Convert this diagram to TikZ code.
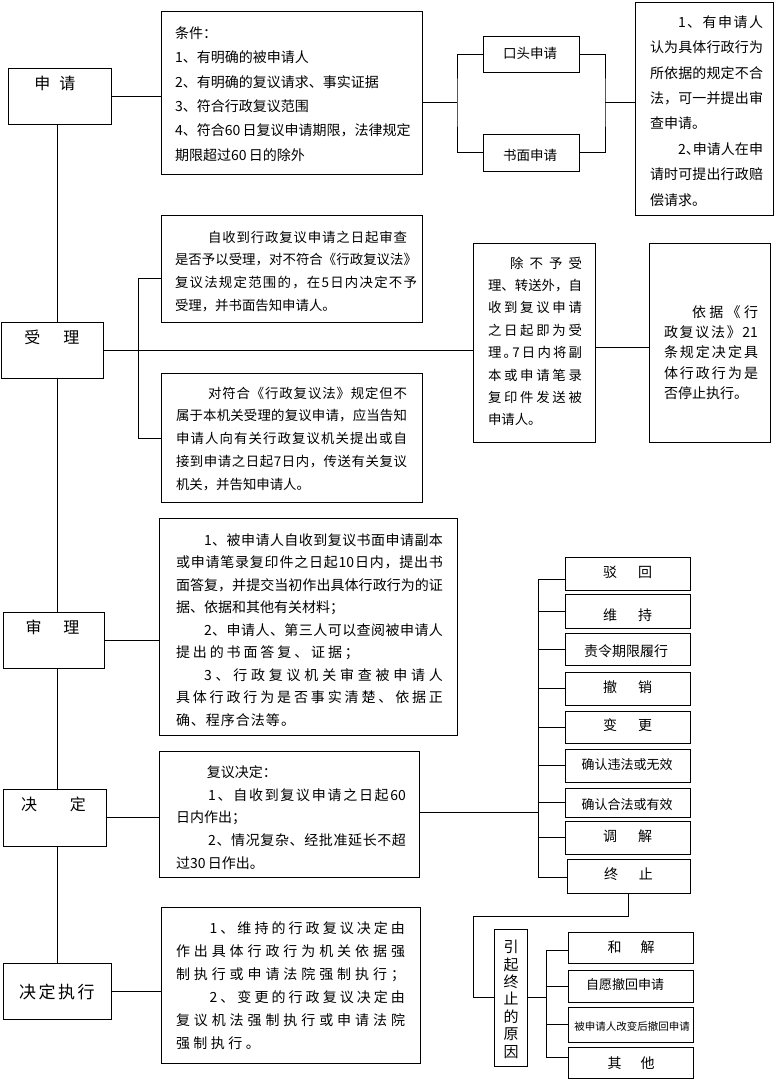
\documentclass[tikz,border=0pt]{standalone}
\usepackage{fontspec}
\newfontfamily\cjk{Noto Sans CJK SC}
\makeatletter
\newcommand\spreadit[1]{\@tfor\sp@x:=#1\do{\sp@x\hskip0pt plus1fil\relax}\unskip}
\makeatother
% #1 box width, #2 box height, #3 left pad, #4 text width, #5 first baseline, #6 line skip, #7 lines
\newcommand\tbox[7]{\vbox to #2{\def\tbW{#1}\def\tbL{#3}\def\tbT{#4}%
  \baselineskip=#6\lineskiplimit=-1000pt\lineskip=0pt
  \kern\dimexpr#5-#6\relax
  \hbox to #1{}%
  #7%
  \vss}}
\newcommand\NL[1]{\hbox{\kern\tbL\relax #1}}
\newcommand\JL[2][0pt]{\hbox to \dimexpr\tbL+\tbT\relax{\kern\tbL\relax\kern#1\relax\spreadit{#2}}}
\newcommand\SL[3][0pt]{\hbox to \dimexpr\tbL+#2\relax{\kern\tbL\relax\kern#1\relax\spreadit{#3}}}
\newcommand\CL[2]{\hbox to \tbW{\hskip\dimexpr\tbW/2+#1\relax\hbox to 0pt{\hss#2\hss}\hss}}
\newcommand\onebox[5]{\tbox{#1}{#2}{0pt}{0pt}{#3}{20pt}{\CL{#4}{#5}}}
\tikzset{
  bx/.style={draw, line width=1pt, inner sep=0pt, outer sep=0pt, anchor=north west},
  fs/.style={font=\cjk\fontsize{#1}{#1}\selectfont},
  ln/.style={line width=1pt}
}
\begin{document}
\begin{tikzpicture}[x=1pt,y=-1pt]
\useasboundingbox (0,0) rectangle (776,1079);
% left column
\node[bx,fs=16] (shenqing) at (8,68) {\onebox{103pt}{56pt}{21.9pt}{-4.5pt}{申\kern9pt 请}};
\node[bx,fs=16] (shouli) at (1,322) {\onebox{102pt}{56pt}{21.9pt}{0pt}{受\kern23pt 理}};
\node[bx,fs=16] (shenli) at (3,612) {\onebox{101pt}{56pt}{21.9pt}{-1pt}{审\kern22pt 理}};
\node[bx,fs=16] (jueding) at (3,789) {\onebox{103pt}{57pt}{21.9pt}{-1pt}{决\kern33pt 定}};
\node[bx,fs=17] (zhixing) at (3,963) {\onebox{108pt}{56pt}{35.3pt}{0pt}{决\kern2.5pt 定\kern2.5pt 执\kern2.5pt 行}};
% text boxes
\node[bx,fs=14] (tiaojian) at (161,11) {\tbox{261pt}{163pt}{14pt}{240pt}{27.2pt}{24.4pt}{%
 \NL{条件：}\NL{1、有明确的被申请人}\NL{2、有明确的复议请求、事实证据}\NL{3、符合行政复议范围}%
 \NL{4、符合60\,日复议申请期限，法律规定}\NL{期限超过60\,日的除外}}};
\node[bx,fs=13.5] (koutou) at (483,36) {\onebox{96pt}{36pt}{22pt}{-1pt}{口头申请}};
\node[bx,fs=13.5] (shumian) at (483,134) {\onebox{96pt}{37pt}{26pt}{-1pt}{书面申请}};
\node[bx,fs=14] (youbox) at (635,2) {\tbox{138pt}{213pt}{15pt}{113pt}{25.2pt}{25.4pt}{%
 \JL[2em]{1、有申请人}\JL{认为具体行政行为}\JL{所依据的规定不合}\JL{法，可一并提出审}\NL{查申请。}%
 \JL[2em]{2{\makebox[.5em][l]{、}}申请人在申}\JL{请时可提出行政赔}\NL{偿请求。}}};
\node[bx,fs=13.4] (boxA) at (161,215) {\tbox{261pt}{107pt}{14pt}{242pt}{27pt}{22.7pt}{%
 \SL[33pt]{232pt}{自收到行政复议申请之日起审查}\JL{是否予以受理，对不符合《行政复议法》}%
 \JL{复议法规定范围的，在5日内决定不予}\NL{受理，并书面告知申请人。}}};
\node[bx,fs=13.4] (boxB) at (161,373) {\tbox{261pt}{129pt}{15pt}{231pt}{25pt}{22.8pt}{%
 \JL[2.4em]{对符合《行政复议法》规定但不}\JL{属于本机关受理的复议申请，应当告知}%
 \JL{申请人向有关行政复议机关提出或自}\JL{接到申请之日起7日内，传送有关复议}\NL{机关，并告知申请人。}}};
\node[bx,fs=13.4] (chubu) at (473,243) {\tbox{122pt}{199pt}{15pt}{94pt}{25pt}{22.4pt}{%
 \JL[22pt]{除不予受}\JL{理、转送外，自}\JL{收到复议申请}\JL{之日起即为受}%
 \JL{理{\makebox[.5em][l]{。}}7日内将副}\JL{本或申请笔录}\JL{复印件发送被}\NL{申请人。}}};
\node[bx,fs=14] (yiju) at (649,243) {\tbox{121pt}{199pt}{15pt}{94pt}{74.2pt}{20.3pt}{%
 \JL[2em]{依据《行}\JL{政复议法》{21}}\JL{条规定决定具}\JL{体行政行为是}\NL{否停止执行。}}};
\node[bx,fs=14] (shenbox) at (159,518) {\tbox{298pt}{217pt}{17pt}{267pt}{27.2pt}{22.5pt}{%
 \JL[2em]{1、被申请人自收到复议书面申请副本}%
 \JL{或申请笔录复印件之日起{10}日内，提出书}%
 \JL{面答复，并提交当初作出具体行政行为的证}%
 \NL{据、依据和其他有关材料；}%
 \JL[2em]{2、申请人、第三人可以查阅被申请人}%
 \SL{183pt}{提出的书面答复、证据；}%
 \JL[2em]{3、行政复议机关审查被申请人}%
 \JL{具体行政行为是否事实清楚、依据正}%
 \SL{119pt}{确、程序合法等。}}};
\node[bx,fs=14] (juebox) at (159,751) {\tbox{260pt}{126pt}{17pt}{230pt}{26.2pt}{22.8pt}{%
 \NL{\kern2.2em 复议决定：}\JL[2.3em]{1、自收到复议申请之日起{60}}\NL{日内作出；}%
 \JL[2.3em]{2、情况复杂、经批准延长不超}\NL{过30\,日作出。}}};
\node[bx,fs=14] (zxbox) at (161,907) {\tbox{259pt}{156pt}{15pt}{229pt}{26.2pt}{23pt}{%
 \JL[2.4em]{1、维持的行政复议决定由}\JL{作出具体行政行为机关依据强}\JL{制执行或申请法院强制执行；}%
 \JL[2.4em]{2、变更的行政复议决定由}\JL{复议机法强制执行或申请法院}\SL{84pt}{强制执行。}}};
% decision outcomes
\node[bx,fs=14] (bo) at (565,557) {\onebox{125pt}{33pt}{20.5pt}{0pt}{驳\kern21pt 回}};
\node[bx,fs=14] (weichi) at (565,594) {\onebox{125pt}{34pt}{26.2pt}{0pt}{维\kern21pt 持}};
\node[bx,fs=14] (zeling) at (565,633) {\onebox{125pt}{32pt}{23.9pt}{-1.5pt}{责令期限履行}};
\node[bx,fs=14] (chexiao) at (565,672) {\onebox{125pt}{33pt}{20.9pt}{0pt}{撤\kern21pt 销}};
\node[bx,fs=14] (biangeng) at (565,711) {\onebox{125pt}{32pt}{19.9pt}{0pt}{变\kern21pt 更}};
\node[bx,fs=13] (queren1) at (565,749) {\onebox{125pt}{33pt}{20.8pt}{-0.5pt}{确认违法或无效}};
\node[bx,fs=13] (queren2) at (565,788) {\onebox{125pt}{29pt}{21.8pt}{-0.5pt}{确认合法或有效}};
\node[bx,fs=14] (tiaojie) at (565,821) {\onebox{125pt}{33pt}{20.9pt}{0pt}{调\kern21pt 解}};
\node[bx,fs=14] (zhongzhi) at (567,859) {\onebox{123pt}{34pt}{20.2pt}{0pt}{终\kern21pt 止}};
% termination reasons
\node[bx,fs=15] (yinqi) at (494,929) {\tbox{33pt}{137pt}{0pt}{0pt}{23.6pt}{17.4pt}{%
 \CL{0.5pt}{引}\CL{0.5pt}{起}\CL{0.5pt}{终}\CL{0.5pt}{止}\CL{0.5pt}{的}\CL{0.5pt}{原}\CL{0.5pt}{因}}};
\node[bx,fs=14] (hejie) at (568,932) {\onebox{125pt}{31pt}{20.2pt}{0.5pt}{和\kern19pt 解}};
\node[bx,fs=13] (ziyuan) at (568,970) {\onebox{125pt}{32pt}{19.8pt}{-5.5pt}{自愿撤回申请}};
\node[bx,fs=10.5] (beishen) at (568,1007) {\onebox{125pt}{35pt}{23.9pt}{1.5pt}{被申请人改变后撤回申请}};
\node[bx,fs=14] (qita) at (568,1047) {\onebox{125pt}{31pt}{21.2pt}{0.5pt}{其\kern19pt 他}};
% connectors: spine
\coordinate (spine) at (57,0);
\draw[ln] (shenqing.south -| spine) -- (shouli.north -| spine);
\draw[ln] (shouli.south -| spine) -- (shenli.north -| spine);
\draw[ln] (shenli.south -| spine) -- (jueding.north -| spine);
\draw[ln] (jueding.south -| spine) -- (zhixing.north -| spine);
% application
\coordinate (fl) at (457,102);
\coordinate (fr) at (605,102);
\draw[ln] (shenqing.east) -- (shenqing.east -| tiaojian.west);
\draw[ln] (tiaojian.east |- fl) -- (fl);
\draw[ln] (koutou.west) -| (fl) |- (shumian.west);
\draw[ln] (koutou.east) -| (fr) |- (shumian.east);
\draw[ln] (fr) -- (fr -| youbox.west);
% acceptance
\coordinate (sa) at (138,278);
\coordinate (sb) at (138,438);
\coordinate (cy) at (0,347);
\draw[ln] (shouli.east) -- (shouli.east -| chubu.west);
\draw[ln] (sa -| boxA.west) -- (sa) -- (sb) -- (sb -| boxB.west);
\draw[ln] (chubu.east |- cy) -- (yiju.west |- cy);
% review
\draw[ln] (shenli.east) -- (shenli.east -| shenbox.west);
% decision
\coordinate (bt) at (538,579);
\coordinate (bb) at (538,877);
\coordinate (bj) at (538,812);
\draw[ln] (jueding.east) -- (jueding.east -| juebox.west);
\draw[ln] (juebox.east |- bj) -- (bj);
\draw[ln] (bt) -- (bb);
\draw[ln] (bt) -- (bt -| bo.west);
\foreach \n in {weichi,zeling,chexiao,biangeng,queren1,queren2,tiaojie}
  \draw[ln] (bt |- \n.west) -- (\n.west);
\draw[ln] (bb) -- (bb -| zhongzhi.west);
% execution
\draw[ln] (zhixing.east) -- (zhixing.east -| zxbox.west);
% termination
\coordinate (tz) at (473,916);
\coordinate (b2t) at (546,950);
\coordinate (b2b) at (546,1057);
\draw[ln] (zhongzhi.south) |- (tz) |- (yinqi.west);
\draw[ln] (yinqi.east) -- (yinqi.east -| b2t);
\draw[ln] (b2t) -- (b2b);
\draw[ln] (b2t) -- (b2t -| hejie.west);
\draw[ln] (b2t |- ziyuan.west) -- (ziyuan.west);
\draw[ln] (b2t |- beishen.west) -- (beishen.west);
\draw[ln] (b2b) -- (b2b -| qita.west);
\end{tikzpicture}
\end{document}
